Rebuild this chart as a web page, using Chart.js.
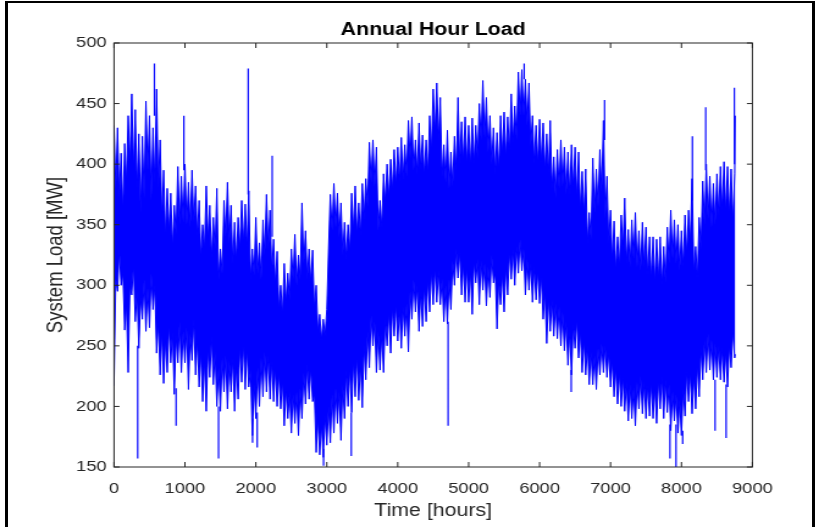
<!DOCTYPE html>
<html>
<head>
<meta charset="utf-8">
<title>Annual Hour Load</title>
<script src="https://cdn.jsdelivr.net/npm/chart.js@4.4.0/dist/chart.umd.min.js"></script>
<style>
  html, body { margin: 0; padding: 0; background: #ffffff; overflow: hidden; }
  #page { position: relative; width: 819px; height: 527px; overflow: hidden; background: #fff; }
  #stretch { position: absolute; left: 0; top: 0; width: 671px; height: 527px; transform: scaleX(1.2206); transform-origin: 0 0; }
  #frameL { position: absolute; left: 5px; top: 1px; width: 3px; height: 526px; background: #000; }
  #frameT { position: absolute; left: 5px; top: 1px; width: 810px; height: 2px; background: #000; }
  #frameR { position: absolute; left: 812px; top: 1px; width: 3px; height: 526px; background: #000; }
</style>
</head>
<body>
<div id="page">
  <div id="stretch"><canvas id="c" width="671" height="527" style="width:671px;height:527px;"></canvas></div>
  <div id="frameL"></div><div id="frameT"></div><div id="frameR"></div>
</div>
<script>
// ---- data (hour of year, MW) ----
// hours at which the daily peaks / troughs were read
const sampleHours = [0,50,100,150,200,250,300,350,400,450,500,550,600,650,700,750,800,850,900,950,
1000,1050,1100,1150,1200,1250,1300,1350,1400,1450,1500,1550,1600,1650,1700,1750,1800,1850,1900,1950,
2000,2050,2100,2150,2200,2250,2300,2350,2400,2450,2500,2550,2600,2650,2700,2750,2800,2850,2900,2950,
3000,3050,3100,3150,3200,3250,3300,3350,3400,3450,3500,3550,3600,3650,3700,3750,3800,3850,3900,3950,
4000,4050,4100,4150,4200,4250,4300,4350,4400,4450,4500,4550,4600,4650,4700,4750,4800,4850,4900,4950,
5000,5050,5100,5150,5200,5250,5300,5350,5400,5450,5500,5550,5600,5650,5700,5750,5800,5850,5900,5950,
6000,6050,6100,6150,6200,6250,6300,6350,6400,6450,6500,6550,6600,6650,6700,6750,6800,6850,6900,6950,
7000,7050,7100,7150,7200,7250,7300,7350,7400,7450,7500,7550,7600,7650,7700,7750,7800,7850,7900,7950,
8000,8050,8100,8150,8200,8250,8300,8350,8400,8450,8500,8550,8600,8650,8700,8750,8759];

// hours between the peaks, where the trace falls back (notches of the band edges)
const notchHours = [25,75,125,175,225,275,325,375,425,475,525,575,625,675,725,775,825,875,925,975,
1025,1075,1125,1175,1225,1275,1325,1375,1425,1475,1525,1575,1625,1675,1725,1775,1825,1875,1925,1975,
2025,2075,2125,2175,2225,2275,2325,2375,2425,2475,2525,2575,2625,2675,2725,2775,2825,2875,2925,2975,
3025,3075,3125,3175,3225,3275,3325,3375,3425,3475,3525,3575,3625,3675,3725,3775,3825,3875,3925,3975,
4025,4075,4125,4175,4225,4275,4325,4375,4425,4475,4525,4575,4625,4675,4725,4775,4825,4875,4925,4975,
5025,5075,5125,5175,5225,5275,5325,5375,5425,5475,5525,5575,5625,5675,5725,5775,5825,5875,5925,5975,
6025,6075,6125,6175,6225,6275,6325,6375,6425,6475,6525,6575,6625,6675,6725,6775,6825,6875,6925,6975,
7025,7075,7125,7175,7225,7275,7325,7375,7425,7475,7525,7575,7625,7675,7725,7775,7825,7875,7925,7975,
8025,8075,8125,8175,8225,8275,8325,8375,8425,8475,8525,8575,8625,8675,8725];

// upper envelope of the hourly load (daily peaks)
const peakLoad = [432,430,409,417,440,458,445,425,423,452,440,430,462,420,395,380,376,366,398,390,
400,385,395,382,370,350,382,366,356,380,330,370,385,366,352,356,370,367,378,330,
356,335,354,375,362,338,328,300,318,310,330,342,325,368,345,330,329,300,276,272,
280,375,384,376,368,352,350,376,382,368,384,388,418,420,414,370,392,400,404,412,
414,422,416,436,439,420,434,424,420,440,462,467,455,416,428,410,423,455,435,439,
432,438,432,450,469,455,440,430,426,440,443,439,458,448,476,478,470,467,440,432,
437,434,425,436,406,412,420,414,410,416,414,410,394,396,360,405,396,412,436,390,
362,353,340,358,372,346,354,360,345,352,348,340,340,338,340,332,348,362,354,350,
345,358,362,388,332,356,386,400,390,384,392,398,402,398,396,392,440];

// upper edge between peaks
const peakNotch = [380,372,360,385,400,395,380,360,372,395,370,385,380,355,340,345,330,342,350,352,
350,348,352,340,322,330,338,322,330,305,310,340,335,318,320,330,335,330,305,308,
310,305,325,330,310,300,280,275,285,288,305,300,305,318,305,302,280,262,255,258,
330,345,348,340,325,322,328,345,342,340,355,365,385,382,345,348,368,372,378,382,
385,388,390,405,395,392,395,390,392,410,425,420,390,385,380,382,395,400,402,400,
398,400,405,420,422,410,400,392,395,408,405,410,418,420,440,440,432,415,400,400,
402,395,392,380,372,380,382,375,375,380,372,362,358,335,338,360,365,378,355,335,
320,312,315,330,318,315,322,315,312,315,308,305,302,305,300,302,318,322,318,312,
315,325,335,310,305,330,350,355,348,350,358,362,360,358,352];

// lower envelope of the hourly load (night troughs)
const troughLoad = [217,295,300,263,228,292,270,248,272,262,265,280,244,226,219,228,236,210,236,228,
236,214,238,226,216,204,196,224,218,200,196,212,198,212,196,206,220,214,216,176,
190,200,208,212,206,204,200,198,184,190,178,186,176,190,202,206,204,162,160,158,
168,170,178,186,172,190,200,195,208,205,199,222,232,250,228,230,228,250,244,258,
254,248,258,245,272,278,262,266,270,278,284,286,284,270,268,280,300,306,292,286,
286,276,302,284,296,283,290,302,264,284,278,292,305,300,310,312,292,296,286,288,
285,272,252,262,258,256,250,246,234,226,248,240,228,226,218,218,214,226,228,224,
216,208,202,200,196,188,190,184,198,194,190,192,190,186,198,190,195,180,188,178,
176,192,204,194,198,208,222,228,230,222,224,222,220,216,232,240,243];

// lower edge between troughs
const troughNotch = [305,330,310,285,300,318,295,290,305,298,310,300,270,262,255,268,262,258,270,262,
265,260,272,255,245,238,248,258,245,232,240,242,238,240,235,250,252,248,230,218,
232,240,245,242,238,232,228,222,215,212,210,212,215,228,235,232,210,190,185,192,
200,210,215,212,218,230,232,238,242,236,250,262,275,270,262,260,272,278,282,285,
280,282,285,295,305,300,295,300,305,312,315,312,305,300,305,320,330,328,318,315,
312,320,322,320,318,315,325,310,305,310,315,328,330,332,338,330,322,318,315,312,
308,295,290,288,285,282,278,270,262,268,272,262,255,250,245,242,248,252,250,245,
238,232,228,225,220,218,215,220,225,220,218,220,215,222,225,222,218,212,210,205,
215,230,228,225,235,248,255,260,255,252,250,248,245,250,262];

// isolated single-hour spikes beyond the envelopes
const spikeHours = [334,570,875,985,1474,1892,1953,2019,2230,2954,3345,4710,5783,6446,6916,7838,7923,8017,8154,8342,8474,8630,8746];
const spikeFrom  = [250,440,215,395,200,375,190,195,340,165,195,270,470,230,420,185,185,180,370,395,222,218,400];
const spikeTo    = [157,483,184,440,157,479,170,166,407,151,159,184,483,212,453,157,140,169,423,447,180,174,463];

// axis ticks
const xTicks = [0,1000,2000,3000,4000,5000,6000,7000,8000,9000];
const yTicks = [150,200,250,300,350,400,450,500];

const BLUE = '#0000ff';
const AXIS = '#262626';
const FONT = "'Liberation Sans', Arial, Helvetica, sans-serif";

function edge(hours, values, nHours, nValues) {
  const pts = [];
  hours.forEach((h, i) => {
    pts.push({x: h, y: values[i]});
    if (i < nHours.length) pts.push({x: nHours[i], y: nValues[i]});
  });
  return pts;
}
const upperPts = edge(sampleHours, peakLoad, notchHours, peakNotch);
const lowerPts = edge(sampleHours, troughLoad, notchHours, troughNotch);
const spikePts = [];
spikeHours.forEach((h, i) => {
  spikePts.push({x: h, y: spikeFrom[i]});
  spikePts.push({x: h, y: spikeTo[i]});
  spikePts.push({x: h, y: null});
});

const matlabBox = {
  id: 'matlabBox',
  afterDatasetsDraw(chart) {
    const {ctx, chartArea: a, scales} = chart;
    const sx = scales.x, sy = scales.y;
    ctx.save();
    ctx.strokeStyle = AXIS;
    ctx.lineWidth = 1;
    ctx.strokeRect(a.left, a.top, a.right - a.left, a.bottom - a.top);
    ctx.beginPath();
    xTicks.forEach(v => {
      const px = sx.getPixelForValue(v);
      ctx.moveTo(px, a.bottom); ctx.lineTo(px, a.bottom - 5);
      ctx.moveTo(px, a.top); ctx.lineTo(px, a.top + 5);
    });
    yTicks.forEach(v => {
      const py = sy.getPixelForValue(v);
      ctx.moveTo(a.left, py); ctx.lineTo(a.left + 4.5, py);
      ctx.moveTo(a.right, py); ctx.lineTo(a.right - 4.5, py);
    });
    ctx.stroke();
    ctx.restore();
  }
};

new Chart(document.getElementById('c'), {
  type: 'line',
  data: {
    datasets: [
      { label: 'peak', data: upperPts, borderColor: BLUE, backgroundColor: BLUE, borderWidth: 1,
        pointRadius: 0, tension: 0, fill: '+1' },
      { label: 'trough', data: lowerPts, borderColor: BLUE, backgroundColor: BLUE, borderWidth: 1,
        pointRadius: 0, tension: 0, fill: false },
      { label: 'spikes', data: spikePts, borderColor: BLUE, borderWidth: 1.2,
        pointRadius: 0, tension: 0, fill: false, spanGaps: false }
    ]
  },
  options: {
    responsive: false,
    animation: false,
    devicePixelRatio: 1,
    layout: { padding: { left: 0, right: 54.6, top: 0, bottom: 0 } },
    plugins: {
      legend: { display: false },
      tooltip: { enabled: false },
      title: {
        display: true, fullSize: false, text: 'Annual Hour Load', color: '#000000',
        font: { family: FONT, size: 17.5, weight: 'bold' },
        padding: { top: 20, bottom: 2 }
      }
    },
    scales: {
      x: {
        type: 'linear', min: 0, max: 9000,
        afterBuildTicks: s => { s.ticks = xTicks.map(v => ({value: v})); },
        afterFit: s => { s.height = 60; },
        grid: { display: false, drawTicks: false },
        border: { display: false },
        ticks: { color: AXIS, font: { family: FONT, size: 15 }, padding: 13, maxRotation: 0, autoSkip: false,
                 callback: v => String(v) },
        title: { display: true, text: 'Time [hours]', color: AXIS,
                 font: { family: FONT, size: 17.5 }, padding: { top: 0, bottom: 5 } }
      },
      y: {
        type: 'linear', min: 150, max: 500,
        afterBuildTicks: s => { s.ticks = yTicks.map(v => ({value: v})); },
        afterFit: s => { s.width = 93.4; },
        grid: { display: false, drawTicks: false },
        border: { display: false },
        ticks: { color: AXIS, font: { family: FONT, size: 15 }, padding: 6, autoSkip: false,
                 callback: v => String(v) },
        title: { display: true, text: 'System Load [MW]', color: AXIS,
                 font: { family: FONT, size: 18.5 }, padding: { top: 35, bottom: 0 } }
      }
    }
  },
  plugins: [matlabBox]
});
</script>
</body>
</html>
